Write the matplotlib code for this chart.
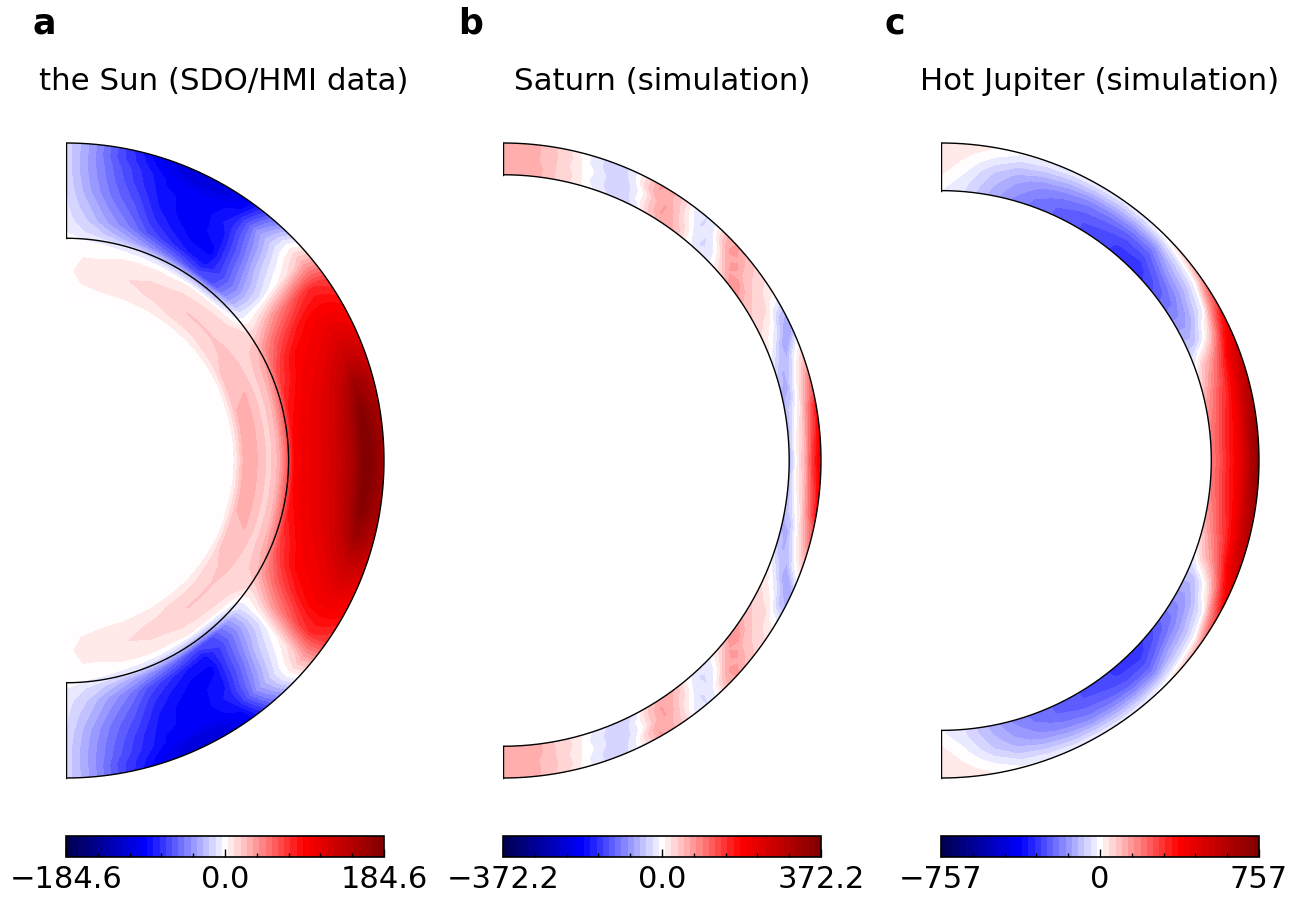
import numpy as np
import matplotlib
matplotlib.use('Agg')
import matplotlib.pyplot as plt
from matplotlib.patches import Wedge

# all tables are in fractions of the colour range, equator (row 0) to pole,
# inner radius (column 0) to surface. The south is the mirror of the north.
titles = ['the Sun (SDO/HMI data)', 'Saturn (simulation)', 'Hot Jupiter (simulation)']
panel_labels = ['a', 'b', 'c']
vmax = [184.6, 372.2, 757.0]
tick_text = [['\u2212184.6', '0.0', '184.6'], ['\u2212372.2', '0.0', '372.2'], ['\u2212757', '0', '757']]
inner_line = [0.70, 0.90, 0.85]

lat_sun = np.arange(0, 95, 5)
r_sun = [.50, .53, .56, .60, .64, .67, .695, .72, .76, .80, .85, .90, .94, .97, 1.02]
v_sun = np.array([
    [.01, .02, .15, .14, .08, .15, .30, .50, .56, .60, .68, .82, 1.0, .95, .80],
    [.01, .02, .15, .14, .08, .15, .30, .50, .56, .60, .68, .82, 1.0, .94, .80],
    [.01, .02, .15, .14, .08, .15, .29, .48, .55, .59, .66, .80, .97, .90, .78],
    [.01, .02, .14, .14, .08, .14, .26, .44, .52, .57, .63, .74, .88, .84, .72],
    [.01, .02, .13, .14, .08, .13, .22, .38, .47, .54, .58, .66, .72, .72, .64],
    [.01, .01, .12, .13, .08, .12, .18, .30, .42, .50, .54, .58, .62, .60, .54],
    [.01, .01, .10, .12, .08, .10, .13, .20, .30, .38, .47, .52, .52, .51, .46],
    [.01, .01, .08, .11, .08, .08, .06, .06, .13, .21, .29, .38, .42, .40, .35],
    [.01, .01, .07, .10, .08, .05, -.02, -.05, -.06, -.05, .00, .05, .10, .15, .10],
    [.01, .01, .06, .10, .08, .03, -.08, -.20, -.22, -.18, -.12, -.08, -.04, -.04, -.12],
    [.01, .01, .06, .10, .07, .02, -.12, -.33, -.36, -.33, -.30, -.25, -.20, -.25, -.35],
    [.01, .01, .06, .09, .06, .02, -.12, -.35, -.47, -.50, -.47, -.43, -.45, -.50, -.55],
    [.01, .01, .05, .08, .05, .01, -.10, -.30, -.45, -.50, -.50, -.50, -.52, -.58, -.62],
    [.01, .01, .05, .07, .05, .01, -.08, -.25, -.40, -.46, -.50, -.50, -.53, -.60, -.62],
    [.01, .01, .04, .06, .04, .01, -.06, -.20, -.34, -.40, -.45, -.48, -.50, -.55, -.58],
    [.01, .01, .04, .05, .03, .01, -.05, -.15, -.25, -.30, -.35, -.40, -.42, -.45, -.50],
    [.01, .01, .03, .04, .02, .01, -.03, -.10, -.18, -.22, -.27, -.30, -.32, -.35, -.35],
    [.01, .01, .02, .03, .02, .01, -.02, -.06, -.10, -.13, -.17, -.19, -.20, -.20, -.20],
    [.01, .01, .01, .01, .01, .01, -.01, -.02, -.04, -.05, -.06, -.07, -.07, -.07, -.07],
])

lat_saturn = np.arange(0, 92.5, 2.5)
r_saturn = [.90, .925, .95, .975, 1.005]
v_saturn = np.array([
    [-.14, .02, .15, .39, .60], [-.14, .02, .14, .37, .58], [-.15, .01, .12, .34, .55],
    [-.15, -.02, .10, .30, .52], [-.15, -.05, .06, .25, .50], [-.15, -.12, .02, .18, .36],
    [-.13, -.15, -.01, .11, .30], [-.09, -.15, -.08, .05, .20], [-.03, -.11, -.14, -.02, .10],
    [.03, -.05, -.15, -.14, .00], [.05, .01, -.06, -.15, -.14], [.09, .05, .01, -.10, -.15],
    [.10, .08, .07, .00, -.05], [.12, .10, .08, .05, .03], [.18, .14, .10, .08, .06],
    [.21, .20, .13, .11, .09], [.10, .17, .20, .16, .12], [.02, .06, .14, .20, .18],
    [-.07, -.04, .00, .10, .14], [-.04, -.07, -.06, -.03, .00], [.00, -.02, -.05, -.07, -.06],
    [.11, .08, .03, -.01, -.05], [.18, .14, .12, .09, .08], [.14, .18, .18, .15, .14],
    [.08, .11, .12, .17, .19], [-.05, .00, .00, .08, .08], [-.08, -.07, -.06, -.04, -.02],
    [-.07, -.09, -.09, -.08, -.07], [-.05, -.06, -.06, -.07, -.07], [-.01, -.03, -.02, -.05, -.05],
    [.04, .03, .02, .01, .00], [.07, .08, .06, .07, .05], [.10, .10, .10, .10, .09],
    [.14, .14, .13, .13, .13], [.16, .16, .16, .16, .16], [.16, .16, .16, .16, .16],
    [.15, .15, .15, .15, .15],
])

lat_jupiter = np.arange(0, 95, 5)
r_jupiter = [.85, .875, .90, .925, .95, .975, 1.02]
v_jupiter = np.array([
    [.25, .32, .42, .50, .62, .80, 1.0],
    [.25, .32, .42, .50, .62, .80, 1.0],
    [.20, .28, .38, .46, .58, .75, .92],
    [.10, .20, .30, .40, .52, .68, .85],
    [-.02, .10, .18, .30, .45, .60, .78],
    [-.12, -.12, -.05, .05, .22, .42, .65],
    [-.20, -.20, -.16, -.09, -.02, .20, .50],
    [-.28, -.27, -.22, -.16, -.09, .00, .35],
    [-.36, -.33, -.28, -.20, -.13, -.05, .20],
    [-.40, -.40, -.35, -.30, -.22, -.10, .10],
    [-.38, -.38, -.35, -.30, -.22, -.12, .05],
    [-.36, -.35, -.32, -.28, -.21, -.12, .03],
    [-.33, -.33, -.30, -.26, -.20, -.11, .03],
    [-.30, -.30, -.27, -.23, -.17, -.10, .03],
    [-.27, -.26, -.23, -.20, -.14, -.08, .03],
    [-.22, -.20, -.18, -.15, -.11, -.06, .02],
    [-.14, -.13, -.11, -.09, -.05, -.01, .04],
    [-.06, -.05, -.03, -.01, .01, .03, .05],
    [-.02, .00, .02, .04, .05, .05, .05],
])

lats = [lat_sun, lat_saturn, lat_jupiter]
radii = [r_sun, r_saturn, r_jupiter]
tables = [v_sun, v_saturn, v_jupiter]

W, H = 1306, 897
left_px = [66, 503, 941]
label_px = [33, 458, 884]
title_px = [224, 662, 1100]


def px_box(x0, y0, x1, y1):
    return [x0 / W, 1 - y1 / H, (x1 - x0) / W, (y1 - y0) / H]


fig = plt.figure(figsize=(W / 100, H / 100), dpi=100)
pad = 0.02  # a little room so the outer arc is not clipped
size = 318

for i in range(3):
    ax = fig.add_axes(px_box(left_px[i], 143 - pad * size, left_px[i] + size * (1 + pad), 778 + pad * size))
    ax.set_xlim(0, 1 + pad)
    ax.set_ylim(-1 - pad, 1 + pad)
    ax.axis('off')

    lat = np.radians(np.concatenate([-lats[i][:0:-1], lats[i]]))
    vals = np.vstack([tables[i][:0:-1], tables[i]]) * vmax[i]
    rr, tt = np.meshgrid(radii[i], lat)
    levels = np.linspace(-vmax[i], vmax[i], 52)
    cs = ax.contourf(rr * np.cos(tt), rr * np.sin(tt), vals, levels=levels, cmap='seismic')

    # the Sun panel also shows the radiative interior below the line
    width = 1.0 if i == 0 else 1.0 - inner_line[i]
    mask = Wedge((0, 0), 1.0, -90, 90, width=width, transform=ax.transData)
    cs.set_clip_path(mask)

    t = np.linspace(-np.pi / 2, np.pi / 2, 400)
    ax.plot(np.cos(t), np.sin(t), color='k', lw=1.0)
    ax.plot(inner_line[i] * np.cos(t), inner_line[i] * np.sin(t), color='k', lw=1.0)
    ax.plot([0, 0], [inner_line[i], 1], color='k', lw=1.0)
    ax.plot([0, 0], [-1, -inner_line[i]], color='k', lw=1.0)

    cax = fig.add_axes(px_box(left_px[i], 836, left_px[i] + size, 857))
    cb = fig.colorbar(cs, cax=cax, orientation='horizontal')
    cb.set_ticks([-vmax[i], 0, vmax[i]], labels=tick_text[i])
    cax.set_xticks(np.array([-.8, -.6, -.4, -.2, .2, .4, .6, .8]) * vmax[i], minor=True)
    cax.tick_params(which='major', direction='in', length=6, width=1, labelsize=22, pad=6)
    cax.tick_params(which='minor', direction='in', length=3, width=1)
    cb.outline.set_linewidth(1.2)

    fig.text(title_px[i] / W, 1 - 81 / H, titles[i], fontsize=22.2, ha='center', va='center')
    fig.text(label_px[i] / W, 1 - 34 / H, panel_labels[i], fontsize=25, fontweight='bold', ha='left', va='baseline')

fig.savefig('out.png', dpi=100)
